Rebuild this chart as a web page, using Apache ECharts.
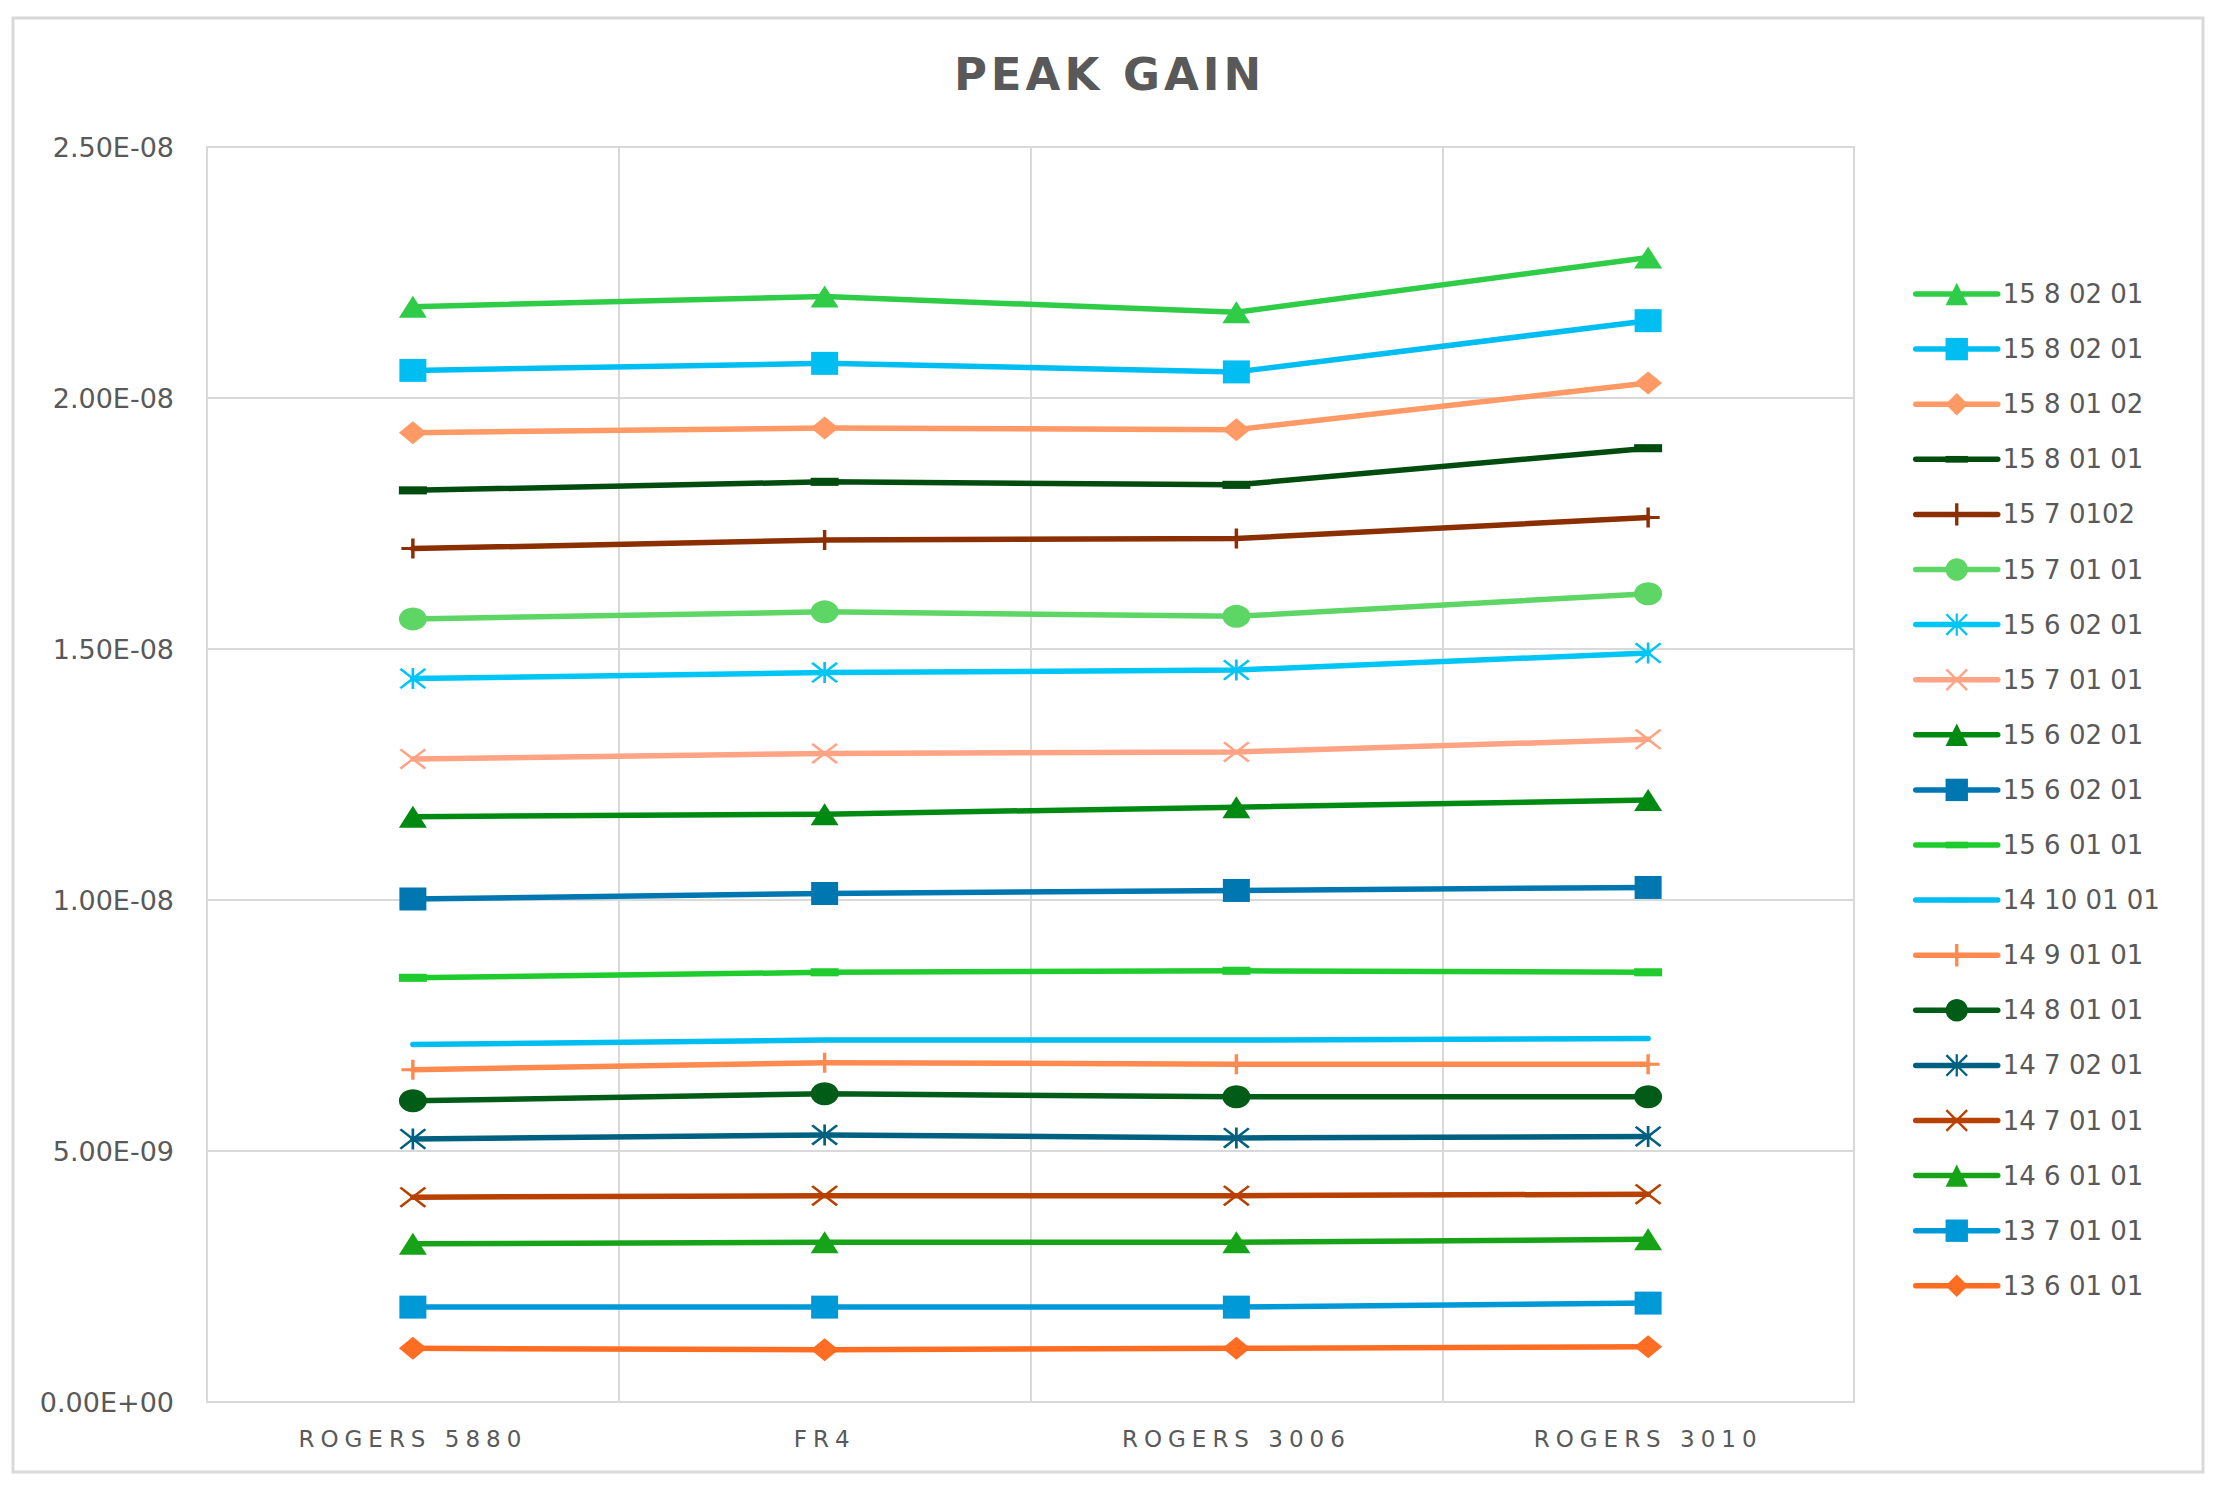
<!DOCTYPE html>
<html>
<head>
<meta charset="utf-8">
<script src="https://cdn.jsdelivr.net/npm/echarts@6/dist/echarts.min.js"></script>
<style>
html,body{margin:0;padding:0;background:#fff;}
#c{width:2219px;height:1490px;}
#c text[style*="45px"]{letter-spacing:4px;}
#c text[style*="23px"]{letter-spacing:6px;}
</style>
</head>
<body>
<div id="c"></div>
<script>
const titleText = 'PEAK GAIN';
const categories = ['ROGERS 5880', 'FR4', 'ROGERS 3006', 'ROGERS 3010'];
const yTicks = { min: 0, max: 2.5e-8, interval: 5e-9 };

const names = ['15 8 02 01', '15 8 02 01 ', '15 8 01 02', '15 8 01 01', '15 7 0102', '15 7 01 01',
  '15 6 02 01', '15 7 01 01 ', '15 6 02 01 ', '15 6 02 01  ', '15 6 01 01', '14 10 01 01',
  '14 9 01 01', '14 8 01 01', '14 7 02 01', '14 7 01 01', '14 6 01 01', '13 7 01 01', '13 6 01 01'];

const s01 = [21.82e-9, 22.02e-9, 21.71e-9, 22.80e-9];
const s02 = [20.55e-9, 20.69e-9, 20.52e-9, 21.54e-9];
const s03 = [19.31e-9, 19.40e-9, 19.37e-9, 20.30e-9];
const s04 = [18.16e-9, 18.33e-9, 18.27e-9, 19.00e-9];
const s05 = [17.00e-9, 17.17e-9, 17.20e-9, 17.62e-9];
const s06 = [15.60e-9, 15.74e-9, 15.65e-9, 16.10e-9];
const s07 = [14.41e-9, 14.53e-9, 14.58e-9, 14.92e-9];
const s08 = [12.81e-9, 12.92e-9, 12.95e-9, 13.20e-9];
const s09 = [11.66e-9, 11.71e-9, 11.85e-9, 11.99e-9];
const s10 = [10.02e-9, 10.13e-9, 10.19e-9, 10.25e-9];
const s11 = [8.45e-9, 8.56e-9, 8.59e-9, 8.56e-9];
const s12 = [7.12e-9, 7.21e-9, 7.21e-9, 7.24e-9];
const s13 = [6.62e-9, 6.76e-9, 6.73e-9, 6.73e-9];
const s14 = [6.00e-9, 6.14e-9, 6.08e-9, 6.08e-9];
const s15 = [5.24e-9, 5.32e-9, 5.26e-9, 5.29e-9];
const s16 = [4.08e-9, 4.11e-9, 4.11e-9, 4.14e-9];
const s17 = [3.15e-9, 3.18e-9, 3.18e-9, 3.24e-9];
const s18 = [1.89e-9, 1.89e-9, 1.89e-9, 1.97e-9];
const s19 = [1.07e-9, 1.04e-9, 1.07e-9, 1.10e-9];
const seriesValues = [s01, s02, s03, s04, s05, s06, s07, s08, s09, s10, s11, s12, s13, s14, s15, s16, s17, s18, s19];

const colors = ['#2fcc47', '#00bef2', '#ff9966', '#004c0f', '#8b2e00', '#5dd665', '#00c6f5', '#ffa385',
  '#008a12', '#0077b0', '#1fcc2e', '#00bdf2', '#ff8a50', '#005c17', '#006080', '#b84000', '#17a317', '#0099d8', '#ff6d22'];

const SYM = {
  tri: 'triangle',
  sq: 'rect',
  dia: 'diamond',
  circ: 'circle',
  plus: 'path://M8.5,0h3v8.5h8.5v3h-8.5v8.5h-3v-8.5h-8.5v-3h8.5z',
  x: 'path://M0,1.5L1.5,0L10,8.5L18.5,0L20,1.5L11.5,10L20,18.5L18.5,20L10,11.5L1.5,20L0,18.5L8.5,10Z',
  ast: 'path://M0,1.5L1.5,0L10,8.5L18.5,0L20,1.5L11.5,10L20,18.5L18.5,20L10,11.5L1.5,20L0,18.5L8.5,10Z M9,0h2v20h-2z',
  dash: 'path://M0,0L0,0M0,7h20v6h-20zM20,20L20,20',
  none: 'path://M0,0L0,0M0,8h20v4h-20zM20,20L20,20'
};
const markers = ['tri', 'sq', 'dia', 'dash', 'plus', 'circ', 'ast', 'x', 'tri', 'sq', 'dash', 'none', 'plus', 'circ', 'ast', 'x', 'tri', 'sq', 'dia'];
const SIZE = {
  tri: [28, 22], sq: [27, 23], dia: [28, 23], circ: [28, 23], plus: [23, 20],
  x: [27, 21], ast: [27, 21], dash: [28, 27], none: [1, 1]
};

function fmtExp(v) {
  if (v === 0) return '0.00E+00';
  const parts = v.toExponential(2).split('e');
  let e = parseInt(parts[1], 10);
  const sign = e < 0 ? '-' : '+';
  e = Math.abs(e);
  return parts[0] + 'E' + sign + (e < 10 ? '0' + e : '' + e);
}

const series = names.map(function (n, i) {
  const m = markers[i];
  return {
    name: n,
    type: 'line',
    data: seriesValues[i],
    symbol: SYM[m],
    symbolSize: SIZE[m],
    showSymbol: m !== 'none',
    symbolKeepAspect: false,
    itemStyle: { color: colors[i] },
    lineStyle: { color: colors[i], width: 5.5, cap: 'round', join: 'round' },
    emphasis: { disabled: true }
  };
});

const legendData = names.map(function (n) { return { name: n }; });

const chart = echarts.init(document.getElementById('c'), null, { renderer: 'svg', width: 2219, height: 1490 });
chart.setOption({
  animation: false,
  backgroundColor: '#ffffff',
  title: {
    text: titleText,
    left: 'center',
    top: 52,
    padding: 0,
    textStyle: { fontFamily: 'DejaVu Sans', fontSize: 45, fontWeight: 'bold', color: '#595959' }
  },
  graphic: [{
    type: 'rect',
    shape: { x: 13, y: 18, width: 2190, height: 1454 },
    style: { fill: 'none', stroke: '#d9d9d9', lineWidth: 3 },
    silent: true
  }],
  legend: {
    orient: 'vertical',
    left: 1913,
    top: 281,
    padding: 0,
    itemWidth: 82,
    itemHeight: 28,
    itemGap: 29.1,
    lineStyle: { width: 5.5, cap: 'round' },
    textStyle: { fontFamily: 'DejaVu Sans', fontSize: 26, color: '#595959' },
    data: legendData
  },
  grid: {
    left: 207, top: 147, right: 365, bottom: 88,
    containLabel: false,
    outerBoundsMode: 'none',
    show: true,
    borderColor: '#d9d9d9',
    borderWidth: 2,
    backgroundColor: 'transparent'
  },
  xAxis: {
    type: 'category',
    data: categories,
    boundaryGap: true,
    axisLine: { lineStyle: { color: '#d9d9d9', width: 2 } },
    axisTick: { show: false },
    splitLine: { show: true, lineStyle: { color: '#d9d9d9', width: 2 } },
    axisLabel: { margin: 25, fontFamily: 'DejaVu Sans', fontSize: 23, color: '#595959' }
  },
  yAxis: {
    type: 'value',
    min: yTicks.min,
    max: yTicks.max,
    interval: yTicks.interval,
    axisLine: { show: true, lineStyle: { color: '#d9d9d9', width: 2 } },
    axisTick: { show: false },
    splitLine: { show: true, lineStyle: { color: '#d9d9d9', width: 2 } },
    axisLabel: { margin: 33, fontFamily: 'DejaVu Sans', fontSize: 27, color: '#595959', formatter: fmtExp }
  },
  series: series
});
</script>
</body>
</html>
